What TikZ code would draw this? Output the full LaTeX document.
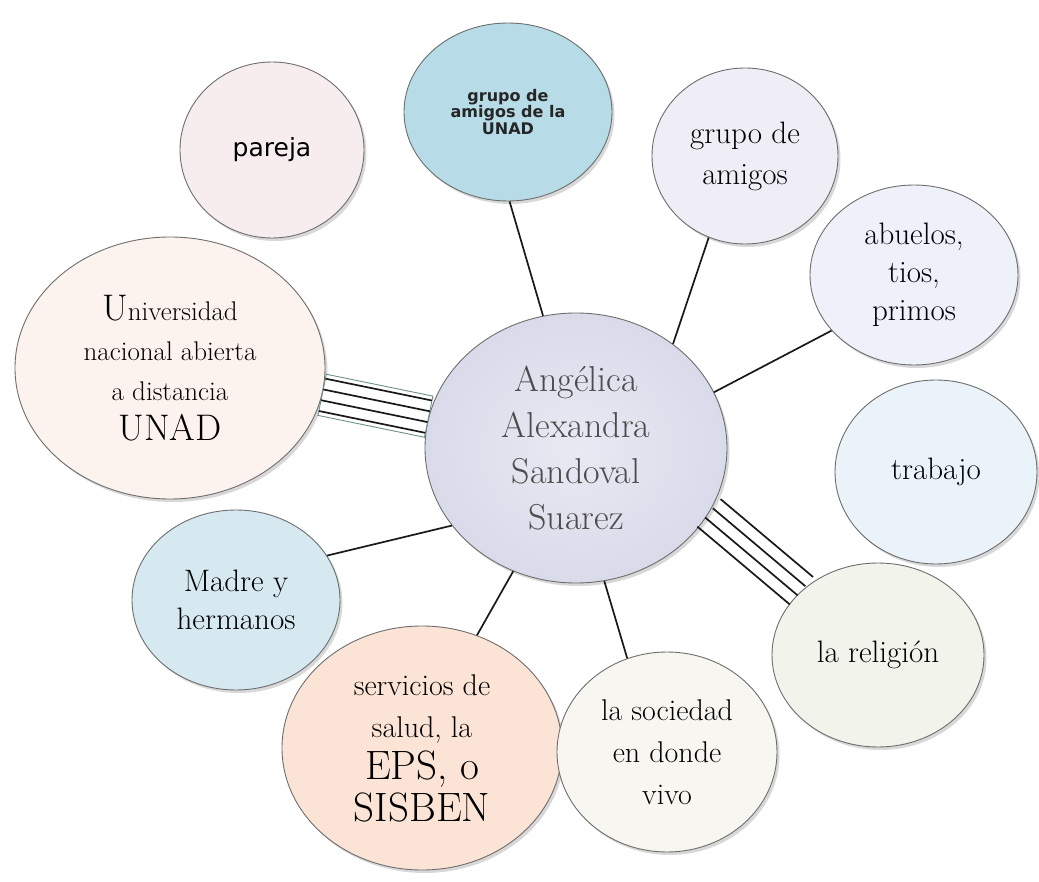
\documentclass[tikz,border=0pt]{standalone}
\usepackage{fontspec}
\newfontfamily\sansf{DejaVu Sans}
\usetikzlibrary{shapes.geometric,shadows,calc}
\definecolor{cPareja}{HTML}{F7EDEE}
\definecolor{cGrpU}{HTML}{B7DCE8}
\definecolor{cAmig}{HTML}{EFEEF6}
\definecolor{cAbue}{HTML}{EEF0FA}
\definecolor{cUniv}{HTML}{FCF3EE}
\definecolor{cCent}{HTML}{DADBEA}
\definecolor{cCentIn}{HTML}{E8E9F2}
\definecolor{cTrab}{HTML}{EAF3F9}
\definecolor{cMadre}{HTML}{D6E9F0}
\definecolor{cRelig}{HTML}{F2F4EC}
\definecolor{cServ}{HTML}{FBE4D5}
\definecolor{cSoc}{HTML}{F7F6F0}
\definecolor{cBorder}{HTML}{6E6E6E}
\definecolor{cBox}{HTML}{6F8F8F}
\newcommand\fsz[2]{\fontsize{#1}{#2}\selectfont}
\begin{document}
\begin{tikzpicture}[x=1pt,y=-1pt,
  bub/.style={ellipse, draw=cBorder, line width=0.9pt, inner sep=0pt, align=center,
    drop shadow={opacity=0.3, shadow xshift=2.5pt, shadow yshift=-3pt}},
  conn/.style={line width=1.7pt, black!90},
  boxc/.style={draw=cBox, line width=0.9pt, fill=white}]
\fill[white] (0,0) rectangle (1039,882);
\useasboundingbox (0,0) rectangle (1039,882);

\node[bub, fill=cPareja, minimum width=184pt, minimum height=176pt, font=\sansf\fsz{25}{28}] (pareja) at (272,150) {pareja};
\node[bub, fill=cGrpU, minimum width=208pt, minimum height=178pt, font=\sansf\bfseries\fsz{16}{16.5}, text=black!85] (grpu) at (508,112) {grupo de\\amigos de la\\UNAD};
\node[bub, fill=cAmig, minimum width=186pt, minimum height=176pt, font=\fsz{31}{41}] (amig) at (745,156) {grupo de\\amigos};
\node[bub, fill=cAbue, minimum width=208pt, minimum height=180pt, font=\fsz{31}{38}] (abue) at (914,275) {abuelos,\\tios,\\primos};
\node[bub, fill=cUniv, minimum width=310pt, minimum height=262pt, font=\fsz{27}{40}] (univ) at (170,368) {{\fsz{37}{40}U}niversidad\\nacional abierta\\a distancia\\{\fsz{37}{40}UNAD}};
\node[bub, shading=radial, inner color=cCentIn, outer color=cCent, minimum width=302pt, minimum height=270pt, font=\fsz{36}{46}, text=black!70] (center) at (576,448) {Angélica\\Alexandra\\Sandoval\\Suarez};
\node[bub, fill=cTrab, minimum width=202pt, minimum height=184pt, font=\fsz{31}{38}] (trab) at (936,472) {trabajo};
\node[bub, fill=cMadre, minimum width=208pt, minimum height=180pt, font=\fsz{31}{38}] (madre) at (236,600) {Madre y\\hermanos};
\node[bub, fill=cRelig, minimum width=212pt, minimum height=184pt, font=\fsz{31}{38}] (relig) at (878,655) {la religión};
\node[bub, fill=cServ, minimum width=280pt, minimum height=244pt, font=\fsz{30}{42}] (serv) at (422,748) {servicios de\\salud, la\\{\fsz{41}{42}EPS, o}\\{\fsz{41}{42}SISBEN}};
\node[bub, fill=cSoc, minimum width=220pt, minimum height=200pt, font=\fsz{30}{42}] (soc) at (667,752) {la sociedad\\en donde\\vivo};

\draw[conn] (grpu.-89) -- (center.104);
\draw[conn] (amig.-114) -- (center.47);
\draw[conn] (abue.214) -- (center.22);
\draw[conn] (madre.26) -- (center.212);
\draw[conn] (serv.64) -- (center.243);
\draw[conn] (soc.113) -- (center.-78);

\coordinate (uA) at (univ.-10);
\coordinate (uB) at (center.168);
\draw[boxc] ($(uA)!21pt!90:(uB)$) -- ($(uB)!21pt!-90:(uA)$) -- ($(uB)!21pt!90:(uA)$) -- ($(uA)!21pt!-90:(uB)$) -- cycle;
\foreach \k in {-16.5,-5.5,5.5,16.5}
  \draw[conn] ($(uA)!\k pt!90:(uB)$) -- ($(uB)!\k pt!-90:(uA)$);

\coordinate (rA) at (center.-26);
\coordinate (rB) at (relig.140);
\foreach \k in {-18,-6,6,18}
  \draw[conn] ($(rA)!\k pt!90:(rB)$) -- ($(rB)!\k pt!-90:(rA)$);
\end{tikzpicture}
\end{document}
